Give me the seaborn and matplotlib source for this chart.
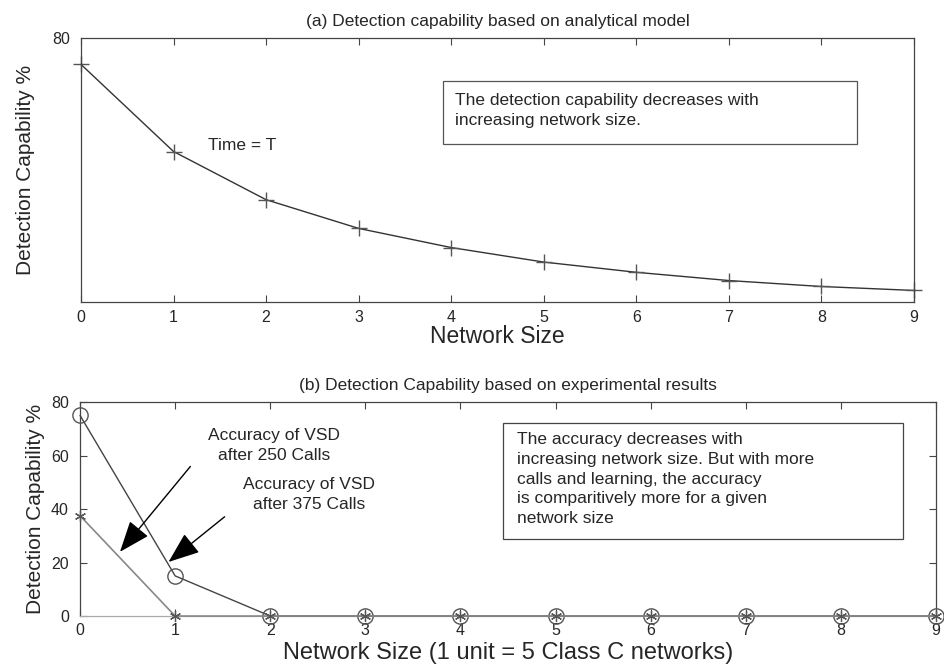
import numpy as np
import pandas as pd
import matplotlib
matplotlib.use("Agg")
import matplotlib.pyplot as plt
from matplotlib.patches import Rectangle
import seaborn as sns

# ---- data ----
network_size = [0, 1, 2, 3, 4, 5, 6, 7, 8, 9]
analytical_capability = [72.0, 45.6, 31.0, 22.3, 16.5, 12.1, 9.0, 6.5, 4.7, 3.5]
acc_375_calls = [75, 15, 0, 0, 0, 0, 0, 0, 0, 0]
acc_250_calls = [37.5, 0, 0, 0, 0, 0, 0, 0, 0, 0]
x_ticks = [0, 1, 2, 3, 4, 5, 6, 7, 8, 9]
top_yticks = [80]
bottom_yticks = [0, 20, 40, 60, 80]

title_a = "(a) Detection capability based on analytical model"
title_b = "(b) Detection Capability based on experimental results"
xlabel_a = "Network Size"
xlabel_b = "Network Size (1 unit = 5 Class C networks)"
ylabel = "Detection Capability %"
note_a = "The detection capability decreases with\nincreasing network size."
note_b = ("The accuracy decreases with\nincreasing network size. But with more\n"
          "calls and learning, the accuracy\nis comparitively more for a given\nnetwork size")

sns.set_style("white")
plt.rcParams["font.family"] = ["Liberation Sans", "DejaVu Sans"]

fig = plt.figure(figsize=(9.45, 6.68), dpi=100)
ax1 = fig.add_axes([0.0857, 0.5479, 0.8815, 0.3952])
ax2 = fig.add_axes([0.0847, 0.0778, 0.9058, 0.3204])

spine_col = "#444444"
for ax in (ax1, ax2):
    for s in ax.spines.values():
        s.set_color(spine_col)
        s.set_linewidth(0.9)

txt = 12.5

# ---- top panel ----
df_a = pd.DataFrame({"x": network_size, "y": analytical_capability})
sns.lineplot(data=df_a, x="x", y="y", ax=ax1, color="#333333", lw=1.0,
             marker="+", markersize=12, markeredgecolor="#555555",
             markeredgewidth=1.0, clip_on=False)
ax1.set_xlim(0, 9)
ax1.set_ylim(0, 80)
ax1.set_xticks(x_ticks)
ax1.set_yticks(top_yticks)
ax1.tick_params(axis="x", direction="in", top=True, bottom=True, length=5,
                color=spine_col, labelsize=11.5, pad=6)
ax1.tick_params(axis="y", length=0, labelsize=11.5, pad=8)
ax1.set_title(title_a, fontsize=txt, pad=9)
ax1.set_xlabel(xlabel_a, fontsize=16.5, labelpad=0)
ax1.set_ylabel(ylabel, fontsize=15, labelpad=12)
ax1.text(1.37, 47.5, "Time = T", fontsize=txt, ha="left", va="center")
ax1.add_patch(Rectangle((0.434, 0.600), 0.498, 0.238, transform=ax1.transAxes,
                        fill=False, edgecolor="#555555", lw=0.9))
ax1.text(0.449, 0.79, note_a, transform=ax1.transAxes, fontsize=txt,
         ha="left", va="top", linespacing=1.4)

# ---- bottom panel ----
df_b = pd.DataFrame({"x": network_size, "c375": acc_375_calls, "c250": acc_250_calls})
sns.lineplot(data=df_b, x="x", y="c375", ax=ax2, color="#444444", lw=1.0,
             marker="o", markersize=11, markerfacecolor="none",
             markeredgecolor="#555555", markeredgewidth=1.0, clip_on=False,
             zorder=3)
sns.lineplot(data=df_b, x="x", y="c250", ax=ax2, color="#888888", lw=1.2,
             marker=(6, 2, 0), markersize=8, markeredgecolor="#555555",
             markeredgewidth=0.9, clip_on=False, zorder=4)
ax2.set_xlim(0, 9)
ax2.set_ylim(0, 80)
ax2.set_xticks(x_ticks)
ax2.set_yticks(bottom_yticks)
ax2.spines["bottom"].set_color("#aaaaaa")
ax2.tick_params(axis="x", direction="in", top=True, bottom=True, length=5,
                color=spine_col, labelsize=11.5, pad=5)
ax2.tick_params(axis="y", direction="in", left=True, right=True, length=5,
                color=spine_col, labelsize=11.5, pad=8)
ax2.set_title(title_b, fontsize=txt, pad=9)
ax2.set_xlabel(xlabel_b, fontsize=17, labelpad=3)
ax2.set_ylabel(ylabel, fontsize=15, labelpad=4)

arrow = dict(arrowstyle="-|>,head_length=1.3,head_width=0.5", color="black",
             lw=1.0, shrinkA=0, shrinkB=0, mutation_scale=15)
ax2.text(2.04, 63.8, "Accuracy of VSD\nafter 250 Calls", fontsize=txt,
         ha="center", va="center", linespacing=1.45)
ax2.annotate("", xy=(0.42, 24.0), xytext=(1.16, 55.9), arrowprops=arrow)
ax2.text(2.41, 45.4, "Accuracy of VSD\nafter 375 Calls", fontsize=txt,
         ha="center", va="center", linespacing=1.45)
ax2.annotate("", xy=(0.93, 20.2), xytext=(1.52, 37.1), arrowprops=arrow)

ax2.add_patch(Rectangle((0.494, 0.358), 0.467, 0.5436, transform=ax2.transAxes,
                        fill=False, edgecolor="#444444", lw=0.9))
ax2.text(0.510, 0.858, note_b, transform=ax2.transAxes, fontsize=txt,
         ha="left", va="top", linespacing=1.38)

fig.savefig("out.png", dpi=100)
